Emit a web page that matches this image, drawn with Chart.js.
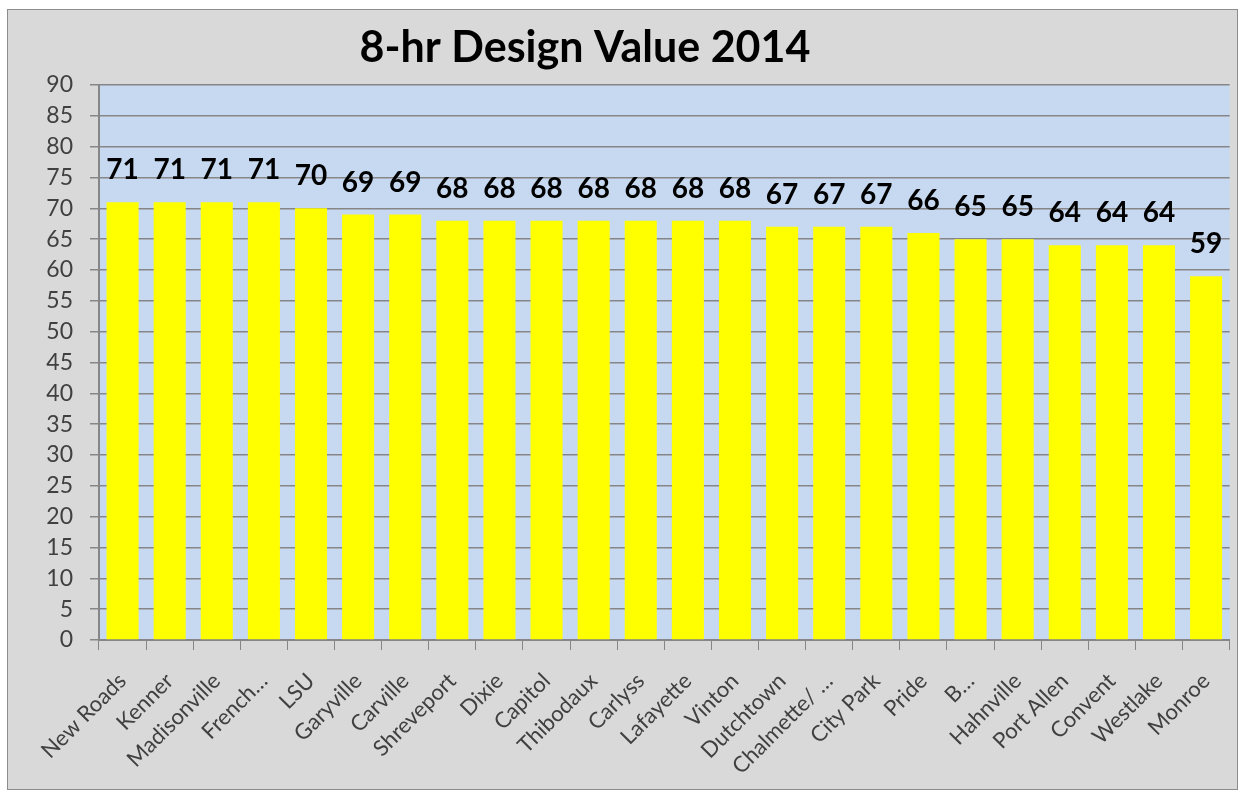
<!DOCTYPE html>
<html>
<head>
<meta charset="utf-8">
<script src="https://cdn.jsdelivr.net/npm/chart.js@4/dist/chart.umd.min.js"></script>
<style>
  html, body { margin: 0; padding: 0; background: #ffffff; }
  #wrap { position: relative; width: 1243px; height: 790px; }
  canvas { display: block; }
</style>
</head>
<body>
<div id="wrap"><canvas id="c" width="1243" height="790"></canvas></div>
<script>
const categories = ["New Roads", "Kenner", "Madisonville", "French…", "LSU", "Garyville", "Carville", "Shreveport", "Dixie", "Capitol", "Thibodaux", "Carlyss", "Lafayette", "Vinton", "Dutchtown", "Chalmette/ …", "City Park", "Pride", "B…", "Hahnville", "Port Allen", "Convent", "Westlake", "Monroe"];
const designValues = [71, 71, 71, 71, 70, 69, 69, 68, 68, 68, 68, 68, 68, 68, 67, 67, 67, 66, 65, 65, 64, 64, 64, 59];
const yTicks = { min: 0, max: 90, step: 5 };
const titleText = "8-hr Design Value 2014";

const FONT = "Lato, 'Open Sans', sans-serif";

const bgPlugin = {
  id: 'bg',
  beforeDraw(chart) {
    const ctx = chart.ctx;
    ctx.save();
    ctx.fillStyle = '#ffffff';
    ctx.fillRect(0, 0, chart.width, chart.height);
    ctx.fillStyle = '#d9d9d9';
    ctx.fillRect(8, 10, 1229, 779);
    ctx.strokeStyle = '#8c8c8c';
    ctx.lineWidth = 1;
    ctx.strokeRect(7.5, 9.5, 1230, 780);
    const a = chart.chartArea;
    ctx.fillStyle = '#c6d9f1';
    ctx.fillRect(a.left, a.top, a.right - a.left, a.bottom - a.top);
    ctx.restore();
  },
  afterDraw(chart) {
    const ctx = chart.ctx;
    ctx.save();
    ctx.font = "bold 43px " + FONT;
    ctx.fillStyle = '#000000';
    ctx.textAlign = 'center';
    ctx.textBaseline = 'middle';
    ctx.fillText(titleText, 585, 48);
    ctx.restore();
  }
};

const labelPlugin = {
  id: 'vals',
  afterDatasetsDraw(chart) {
    const ctx = chart.ctx;
    const meta = chart.getDatasetMeta(0);
    ctx.save();
    ctx.font = "bold 28px " + FONT;
    ctx.fillStyle = '#000000';
    ctx.textAlign = 'center';
    ctx.textBaseline = 'middle';
    meta.data.forEach((bar, i) => {
      ctx.fillText(String(designValues[i]), bar.x, bar.y - 32);
    });
    ctx.restore();
  }
};

new Chart(document.getElementById('c'), {
  type: 'bar',
  data: {
    labels: categories,
    datasets: [{
      data: designValues,
      backgroundColor: '#ffff00',
      borderWidth: 0,
      barPercentage: 0.68,
      categoryPercentage: 1.0
    }]
  },
  options: {
    responsive: false,
    animation: false,
    devicePixelRatio: 1,
    layout: { padding: { left: 0, right: 11, top: 85, bottom: 0 } },
    plugins: {
      legend: { display: false },
      tooltip: { enabled: false },
      title: { display: false }
    },
    scales: {
      x: {
        grid: { drawOnChartArea: false, drawTicks: true, tickLength: 10, color: '#868686', offset: true },
        border: { color: '#868686', width: 2 },
        ticks: {
          color: '#404040',
          font: { family: FONT, size: 22 },
          maxRotation: 45, minRotation: 45,
          autoSkip: false,
          padding: 18
        },
        afterFit(scale) { scale.height = 150; }
      },
      y: {
        min: yTicks.min, max: yTicks.max,
        grid: { color: '#868686', lineWidth: 1.5, tickLength: 9 },
        border: { color: '#868686', width: 2 },
        ticks: {
          stepSize: yTicks.step,
          color: '#404040',
          font: { family: FONT, size: 23 },
          padding: 17
        },
        afterFit(scale) { scale.width = 99; }
      }
    }
  },
  plugins: [bgPlugin, labelPlugin]
});
</script>
</body>
</html>
